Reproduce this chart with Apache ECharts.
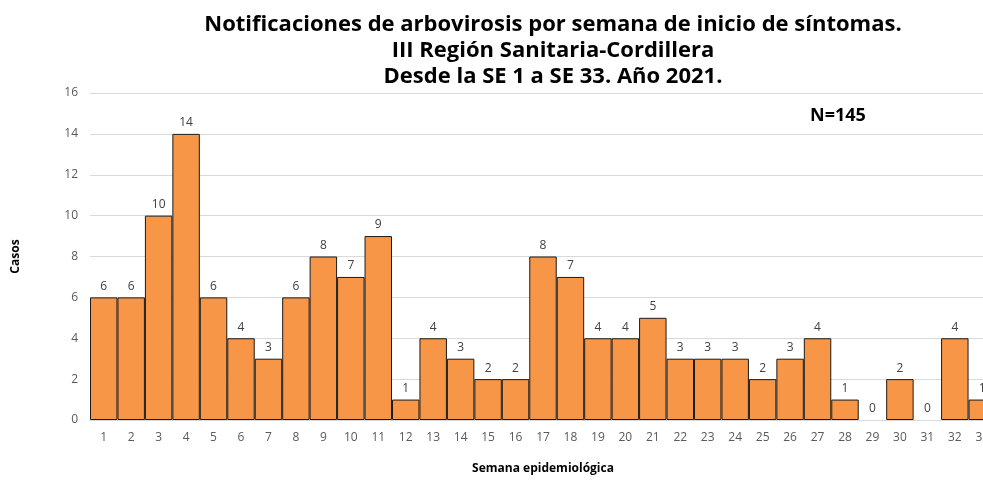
<!DOCTYPE html>
<html>
<head>
<meta charset="utf-8">
<script src="https://cdn.jsdelivr.net/npm/echarts@6/dist/echarts.min.js"></script>
<style>
  html, body { margin: 0; padding: 0; background: #fff; }
  #chart { width: 983px; height: 480px; }
</style>
</head>
<body>
<div id="chart"></div>
<script>
const weeks = ['1','2','3','4','5','6','7','8','9','10','11','12','13','14','15','16','17','18','19','20','21','22','23','24','25','26','27','28','29','30','31','32','33'];
const cases = [6, 6, 10, 14, 6, 4, 3, 6, 8, 7, 9, 1, 4, 3, 2, 2, 8, 7, 4, 4, 5, 3, 3, 3, 2, 3, 4, 1, 0, 2, 0, 4, 1];
const titleLines = [
  'Notificaciones de arbovirosis por semana de inicio de síntomas.',
  'III Región Sanitaria-Cordillera',
  'Desde la SE 1 a SE 33. Año 2021.'
];
const totalLabel = 'N=145';

const font = '"Open Sans", "Noto Sans", sans-serif';

// zero-height bars have no outline in the original
const barData = cases.map(v => v === 0 ? { value: v, itemStyle: { borderWidth: 0 } } : v);

const chart = echarts.init(document.getElementById('chart'));
chart.setOption({
  animation: false,
  textStyle: { fontFamily: font },
  title: [
    {
      text: titleLines.join('\n'),
      left: 548,
      top: 7,
      textAlign: 'center',
      textStyle: { fontFamily: font, fontSize: 22, fontWeight: 'bold', color: '#000', lineHeight: 26, align: 'center' }
    },
    {
      text: totalLabel,
      left: 805,
      top: 102,
      textStyle: { fontFamily: font, fontSize: 18, fontWeight: 'bold', color: '#000' }
    }
  ],
  // plot runs past the right edge, so the last week is cut off like in the original
  grid: { left: 90, top: 93, bottom: 60, width: 906, containLabel: false, outerBoundsMode: 'none' },
  xAxis: {
    type: 'category',
    data: weeks,
    name: 'Semana epidemiológica',
    nameLocation: 'middle',
    nameGap: 43,
    nameTextStyle: { fontFamily: font, fontSize: 12, fontWeight: 'bold', color: '#000' },
    axisLine: { lineStyle: { color: '#d9d9d9', width: 1 } },
    axisTick: { show: false },
    axisLabel: { color: '#595959', fontSize: 12, margin: 12 }
  },
  yAxis: {
    type: 'value',
    min: 0,
    max: 16,
    interval: 2,
    name: 'Casos',
    nameLocation: 'middle',
    nameGap: 68,
    nameTextStyle: { fontFamily: font, fontSize: 12, fontWeight: 'bold', color: '#000' },
    axisLine: { show: false },
    axisTick: { show: false },
    axisLabel: { color: '#595959', fontSize: 12, margin: 12 },
    splitLine: { lineStyle: { color: '#d9d9d9', width: 1 } }
  },
  series: [{
    type: 'bar',
    data: barData,
    barWidth: '100%',
    barGap: '0%',
    itemStyle: { color: '#F79646', borderColor: '#1a1a1a', borderWidth: 1 },
    label: {
      show: true,
      position: 'top',
      color: '#404040',
      fontSize: 12,
      distance: 5
    }
  }]
});
</script>
</body>
</html>
